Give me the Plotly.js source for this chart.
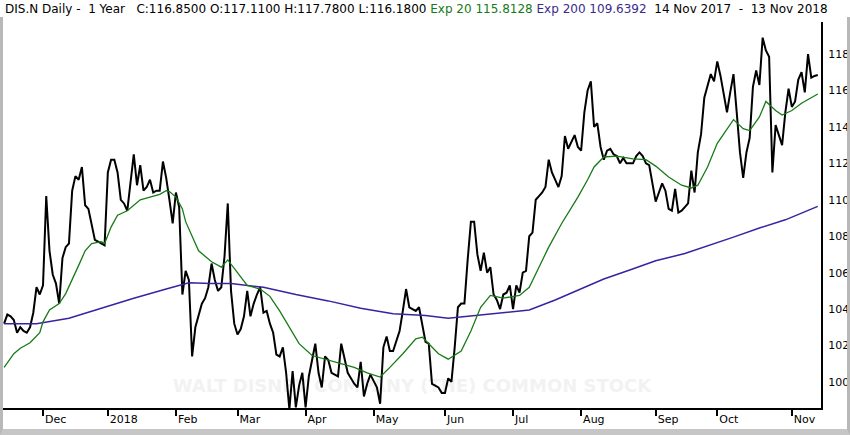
<!DOCTYPE html>
<html>
<head>
<meta charset="utf-8">
<script src="https://cdn.plot.ly/plotly-3.0.1.min.js"></script>
<style>
  html, body { margin: 0; padding: 0; background: #ffffff; }
  #wrap { position: relative; width: 850px; height: 435px; overflow: hidden; }
  #chart { position: absolute; left: 0; top: 0; width: 850px; height: 435px; }
  #frame { position: absolute; left: 0; top: 17px; width: 850px; height: 418px; box-sizing: border-box;
           border-left: 3px solid #b8b8b8; border-right: 3px solid #b8b8b8; border-bottom: 6px solid #c6c6c6;
           pointer-events: none; }
</style>
</head>
<body>
<div id="wrap">
  <div id="chart"></div>
  <div id="frame"></div>
</div>
<script>
// ---- categories: trading days 14 Nov 2017 .. 13 Nov 2018 ----
const startDate = '2017-11-14';
const endDate = '2018-11-13';
const marketHolidays = ['2017-11-23','2017-12-25','2018-01-01','2018-01-15','2018-02-19',
                        '2018-03-30','2018-05-28','2018-07-04','2018-09-03'];

// ---- axis tick labels (first trading day of each month) ----
const monthLabels = ['Dec','2018','Feb','Mar','Apr','May','Jun','Jul','Aug','Sep','Oct','Nov'];
const priceTicks = [100,102,104,106,108,110,112,114,116,118];

// ---- DIS.N daily close ----
const closePrices = [
  103.2,103.7,103.6,103.4,102.7,103.0,102.8,102.7,103.0,103.8,
  105.2,104.8,105.3,110.2,107.2,105.9,105.4,104.3,106.8,107.4,
  107.6,110.5,111.3,111.1,111.8,109.7,109.5,108.6,107.8,107.7,
  107.6,107.5,111.5,112.2,112.2,111.5,110.0,109.8,109.4,111.1,
  112.5,110.8,111.9,110.5,110.7,111.1,110.4,110.5,110.5,112.1,
  111.2,110.0,108.7,110.4,109.6,104.8,106.1,105.6,101.4,103.0,
  103.6,104.3,104.6,105.2,106.5,105.6,105.0,105.2,106.9,109.8,
  105.0,103.2,102.6,102.9,103.6,105.0,103.6,104.3,104.8,105.2,
  103.8,103.9,103.2,102.7,101.5,101.4,101.9,100.5,98.5,100.6,
  98.6,99.8,100.5,98.6,100.3,101.2,102.1,100.5,99.7,101.4,
  101.2,100.5,100.4,100.3,102.1,101.2,100.5,100.2,99.9,99.7,
  101.1,99.2,99.9,100.4,100.0,99.7,98.8,101.9,102.5,101.7,
  101.7,102.3,102.8,103.9,105.1,104.1,104.0,103.9,104.1,103.2,
  102.2,102.1,99.9,99.8,99.7,99.4,99.4,100.2,100.0,101.9,
  104.1,104.3,104.3,106.7,108.8,108.8,107.0,106.1,107.1,106.0,
  106.3,104.8,104.5,104.0,104.8,104.9,105.3,104.0,105.3,104.9,
  106.0,106.1,108.0,108.2,110.0,110.2,110.4,110.7,112.2,111.5,
  111.1,110.7,111.3,113.5,112.8,113.2,113.55,112.9,112.7,114.8,
  116.0,116.5,114.0,114.2,112.9,112.2,112.7,112.8,112.5,112.4,
  112.0,112.3,112.0,112.0,112.0,112.4,112.6,112.4,112.0,111.9,
  110.8,109.9,110.4,110.9,110.5,109.5,109.4,110.6,109.3,109.4,
  109.6,109.8,111.6,110.4,112.6,113.6,115.6,116.3,116.9,116.5,
  117.6,116.8,115.9,114.8,115.9,116.9,114.8,112.6,111.2,112.6,
  113.4,116.2,117.1,116.3,118.9,118.2,117.85,111.5,114.1,113.55,
  113.0,114.8,116.1,115.1,115.4,116.6,117.0,115.9,118.0,116.7,
  116.8,116.85
];

// ---- Exp 20 (at trading-day positions) ----
const ema20Day = [0,3,5,8,11,12,14,16,17,19,21,23,25,27,30,31,33,35,38,40,
  42,45,48,50,51,53,55,56,58,60,64,67,69,72,75,79,82,85,88,91,
  95,100,104,108,112,116,119,123,127,129,131,134,137,141,144,147,150,154,159,162,
  165,168,172,177,180,182,185,189,194,198,201,205,209,212,214,217,220,223,225,228,
  230,233,235,238,240,243,246,251];
const ema20Values = [100.8,101.55,101.85,102.15,102.7,103.3,103.95,104.2,104.3,104.85,
  105.6,106.4,107.2,107.6,107.7,107.6,108.5,109.15,109.4,109.7,
  110.0,110.15,110.3,110.5,110.45,110.15,109.5,108.8,107.95,107.2,
  106.6,106.3,106.7,106.0,105.3,105.1,104.7,103.9,103.0,102.1,
  101.45,101.2,101.0,100.8,100.5,100.27,100.8,101.55,102.37,102.46,
  102.1,101.55,101.25,101.7,102.8,104.1,104.75,104.6,104.75,105.2,
  106.3,107.4,108.7,110.15,111.1,111.8,112.35,112.4,112.25,112.2,
  111.85,111.25,110.8,110.65,110.8,111.8,113.1,113.9,114.4,113.9,
  113.8,114.55,115.4,114.9,114.65,114.9,115.3,115.81];

// ---- Exp 200 (at trading-day positions) ----
const ema200Day = [0,10,20,30,40,50,57,64,70,80,90,100,110,120,130,137,145,155,162,170,
  177,185,193,201,210,217,225,233,241,251];
const ema200Values = [103.2,103.2,103.5,104.05,104.6,105.1,105.45,105.4,105.4,105.2,
  104.8,104.45,104.05,103.75,103.65,103.5,103.65,103.85,103.95,104.5,
  105.05,105.65,106.15,106.65,107.05,107.45,107.95,108.45,108.9,109.64];

// ---- build trading-day categories ----
function isoDay(d) { return d.toISOString().slice(0, 10); }
const dates = [];
(function () {
  const d = new Date(startDate + 'T00:00:00Z');
  const end = new Date(endDate + 'T00:00:00Z');
  while (d <= end) {
    const dow = d.getUTCDay();
    const s = isoDay(d);
    if (dow !== 0 && dow !== 6 && marketHolidays.indexOf(s) < 0) dates.push(s);
    d.setUTCDate(d.getUTCDate() + 1);
  }
})();
const tickDates = [];
for (let i = 1; i < dates.length; i++) {
  if (dates[i].slice(0, 7) !== dates[i - 1].slice(0, 7)) tickDates.push(dates[i]);
}

const FONT = 'DejaVu Sans, Verdana, sans-serif';
const GREEN = '#177a17';
const PURPLE = '#3b22a0';

const traces = [
  { x: dates.slice(0, closePrices.length), y: closePrices, type: 'scatter', mode: 'lines',
    line: { color: '#000000', width: 2 }, hoverinfo: 'skip' },
  { x: ema200Day.map(i => dates[i]), y: ema200Values, type: 'scatter', mode: 'lines',
    line: { color: PURPLE, width: 1.5 }, hoverinfo: 'skip' },
  { x: ema20Day.map(i => dates[i]), y: ema20Values, type: 'scatter', mode: 'lines',
    line: { color: GREEN, width: 1.3 }, hoverinfo: 'skip' }
];

const titleText = 'DIS.N Daily -\u00a0 1 Year\u00a0\u00a0 C:116.8500 O:117.1100 H:117.7800 L:116.1800 ' +
  '<span style="color:' + GREEN + '">Exp 20 115.8128</span> ' +
  '<span style="color:#3a2a8c">Exp 200 109.6392</span>\u00a0 14 Nov 2017\u00a0 -\u00a0 13 Nov 2018';

const layout = {
  width: 850, height: 435,
  margin: { l: 3, r: 29, t: 22, b: 27, pad: 0 },
  paper_bgcolor: '#ffffff', plot_bgcolor: '#ffffff',
  showlegend: false,
  font: { family: FONT, size: 11, color: '#000000' },
  xaxis: {
    type: 'category',
    categoryorder: 'array', categoryarray: dates,
    range: [-0.34, 252.0],
    tickmode: 'array', tickvals: tickDates, ticktext: monthLabels,
    tickangle: 0,
    ticks: 'outside', ticklen: 6, tickwidth: 2, tickcolor: '#000000',
    ticklabelposition: 'outside right',
    showline: true, linecolor: '#000000', linewidth: 2,
    showgrid: false, zeroline: false,
    tickfont: { family: FONT, size: 11, color: '#000000' },
    fixedrange: true
  },
  yaxis: {
    side: 'right',
    range: [98.57, 119.76],
    tickmode: 'array', tickvals: priceTicks,
    ticks: '', ticklabelstandoff: 3,
    showline: true, linecolor: '#000000', linewidth: 2,
    showgrid: false, zeroline: false,
    tickfont: { family: FONT, size: 11, color: '#000000' },
    fixedrange: true
  },
  shapes: [
    { type: 'rect', xref: 'paper', yref: 'paper', x0: 0.05, x1: 0.95, y0: 0.0, y1: 0.12,
      layer: 'below', line: { width: 0 }, fillcolor: 'rgba(0,0,0,0)',
      label: { text: '<b>WALT DISNEY COMPANY (THE) COMMON STOCK</b>', textposition: 'middle center',
               font: { family: FONT, size: 18, color: '#f2f2f2' } } }
  ],
  annotations: [
    { xref: 'paper', yref: 'paper', x: 0, y: 1.034, xanchor: 'left', yanchor: 'middle',
      showarrow: false, text: titleText, font: { family: FONT, size: 12, color: '#000000' } }
  ]
};

Plotly.newPlot('chart', traces, layout, { staticPlot: true, displayModeBar: false });
</script>
</body>
</html>
